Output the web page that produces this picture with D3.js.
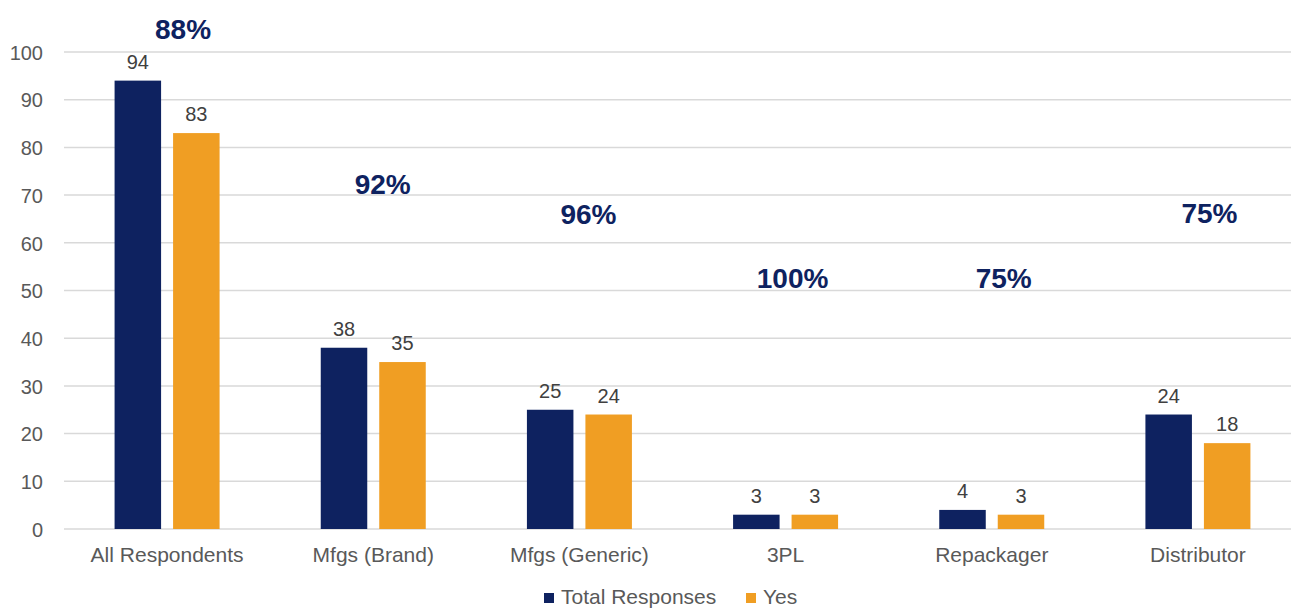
<!DOCTYPE html>
<html>
<head>
<meta charset="utf-8">
<script src="https://cdn.jsdelivr.net/npm/d3@7"></script>
<style>
  html, body { margin: 0; padding: 0; background: #fff; }
  svg { display: block; font-family: "Liberation Sans", Arial, sans-serif; }
</style>
</head>
<body>
<svg id="chart" width="1291" height="608"></svg>
<script>
// ---- data ----
const categories = ["All Respondents", "Mfgs (Brand)", "Mfgs (Generic)", "3PL", "Repackager", "Distributor"];
const seriesNames = ["Total Responses", "Yes"];
const totalResponses = [94, 38, 25, 3, 4, 24];
const yesResponses = [83, 35, 24, 3, 3, 18];
const pctLabels = ["88%", "92%", "96%", "100%", "75%", "75%"];
const pctLabelLevel = [102.7, 70.2, 63.9, 50.5, 50.5, 64.2]; // value level of annotation baseline
const yTicks = [0, 10, 20, 30, 40, 50, 60, 70, 80, 90, 100];

// ---- layout / style ----
const colors = ["#0E2260", "#F09E23"];
const pctShift = [16, 9.5, 9, 7, 12, 11.5];
const svg = d3.select("#chart");
const plotLeft = 64, plotRight = 1301, plotTop = 52, plotBottom = 529;

const x = d3.scaleBand().domain(categories).range([plotLeft, plotRight]).paddingInner(0).paddingOuter(0);
const bw = x.bandwidth();
const groupW = 105;
const xs = d3.scaleBand().domain(seriesNames).range([0, groupW]).paddingInner(0.205).paddingOuter(0);
const y = d3.scaleLinear().domain([0, 100]).range([plotBottom, plotTop]);

// gridlines
svg.append("g").selectAll("line").data(yTicks).join("line")
  .attr("x1", plotLeft).attr("x2", 1291)
  .attr("y1", d => y(d)).attr("y2", d => y(d))
  .attr("stroke", "#D9D9D9").attr("stroke-width", 1.5);

// y axis labels
const yAxis = d3.axisLeft(y).tickValues(yTicks).tickSize(0).tickPadding(0);
const yg = svg.append("g").attr("transform", `translate(43,0)`).call(yAxis);
yg.select(".domain").remove();
yg.selectAll("text").attr("font-size", 20).attr("fill", "#595959")
  .attr("font-family", "Liberation Sans, Arial, sans-serif").attr("dy", "0.36em");

// x axis labels
const xAxis = d3.axisBottom(x).tickSize(0).tickPadding(0);
const xg = svg.append("g").attr("transform", `translate(0,562)`).call(xAxis);
xg.select(".domain").remove();
xg.selectAll("text").attr("font-size", 21).attr("fill", "#595959")
  .attr("font-family", "Liberation Sans, Arial, sans-serif").attr("dy", 0);

const series = [totalResponses, yesResponses];
const groupOffset = (bw - groupW) / 2;

series.forEach((vals, si) => {
  const g = svg.append("g");
  g.selectAll("rect").data(vals).join("rect")
    .attr("x", (d, i) => x(categories[i]) + groupOffset + xs(seriesNames[si]))
    .attr("width", xs.bandwidth())
    .attr("y", d => y(d))
    .attr("height", d => plotBottom - y(d))
    .attr("fill", colors[si]);
  g.selectAll("text").data(vals).join("text")
    .attr("x", (d, i) => x(categories[i]) + groupOffset + xs(seriesNames[si]) + xs.bandwidth() / 2)
    .attr("y", d => y(d) - 12)
    .attr("text-anchor", "middle")
    .attr("font-size", 20).attr("fill", "#404040")
    .text(d => d);
});

// percentage annotations
svg.append("g").selectAll("text").data(pctLabels).join("text")
  .attr("x", (d, i) => x(categories[i]) + bw / 2 + pctShift[i])
  .attr("y", (d, i) => y(pctLabelLevel[i]))
  .attr("text-anchor", "middle")
  .attr("font-size", 28).attr("font-weight", "bold").attr("fill", "#0E2260")
  .text(d => d);

// legend
const legend = svg.append("g");
const legendX = [544, 746];
seriesNames.forEach((name, i) => {
  legend.append("rect").attr("x", legendX[i]).attr("y", 593).attr("width", 10).attr("height", 10).attr("fill", colors[i]);
  legend.append("text").attr("x", legendX[i] + 17).attr("y", 604)
    .attr("font-size", 21).attr("fill", "#595959").text(name);
});
</script>
</body>
</html>
